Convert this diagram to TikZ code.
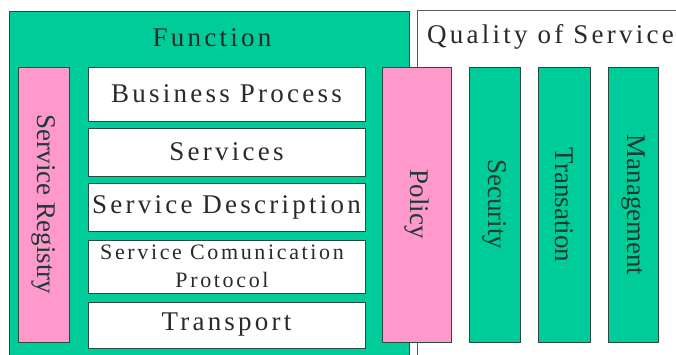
\documentclass[tikz,border=0pt]{standalone}
\usepackage{fontspec}
\setmainfont{Liberation Serif}
\definecolor{fgreen}{HTML}{00CC99}
\definecolor{fpink}{HTML}{FF99CC}
\definecolor{edge}{HTML}{2B4A40}
\definecolor{txt}{HTML}{2A2A2A}
\definecolor{vtxt}{HTML}{1E3A32}
\newcommand{\spacedfont}[1]{\fontsize{#1}{28}\selectfont\addfontfeature{LetterSpace=12}}
\tikzset{
  x=1pt, y=-1pt,
  layerbox/.style={draw=edge, line width=1pt, fill=white},
  pinkbar/.style={draw=edge, line width=1pt, fill=fpink},
  greenbar/.style={draw=edge, line width=1pt, fill=fgreen},
  htext/.style={font=\spacedfont{27}, text=txt, inner sep=0pt},
  vtext/.style={font=\fontsize{27}{29}\selectfont, text=vtxt, rotate=-90, inner sep=0pt},
}
\begin{document}
\begin{tikzpicture}
\useasboundingbox (0,0) rectangle (676,354);
\clip (0,0) rectangle (676,354);
\fill[white] (0,0) rectangle (676,354);
% main containers
\draw[draw=edge, line width=1pt, fill=fgreen] (9,11) rectangle (409,362);
\draw[draw=gray!70!black, line width=1pt, fill=white] (417,10) rectangle (690,362);
\node[htext] (func) at (212,38) {Function};
\node[htext, anchor=base west] (qos) at (427,43) {Quality of Service};
% left registry
\draw[pinkbar] (18,67) rectangle (69,342);
\node[vtext] (reg) at (43.5,204.5) {Service Registry};
% layers
\draw[layerbox] (88,67) rectangle (365,121);
\node[htext] (bp) at (226.5,94) {Business Process};
\draw[layerbox] (88,128) rectangle (365,176);
\node[htext] (svc) at (226.5,152) {Services};
\draw[layerbox] (88,183) rectangle (365,231);
\node[htext] (sd) at (226.5,207) {Service Description};
\draw[layerbox] (88,240) rectangle (365,293);
\node[htext, font=\spacedfont{22}, align=center] (scp) at (222,266.5) {Service Comunication\\Protocol};
\draw[layerbox] (88,302) rectangle (365,348);
\node[htext] (tr) at (226.5,325) {Transport};
% policy and QoS bars
\draw[pinkbar] (382,67) rectangle (451,342);
\node[vtext] (pol) at (416.5,204) {Policy};
\draw[greenbar] (469,67) rectangle (520,342);
\node[vtext] (sec) at (494.5,204) {Security};
\draw[greenbar] (538,67) rectangle (590,342);
\node[vtext] (tra) at (564,205) {Transation};
\draw[greenbar] (608,67) rectangle (658,342);
\node[vtext] (man) at (633,205) {Management};
\end{tikzpicture}
\end{document}
